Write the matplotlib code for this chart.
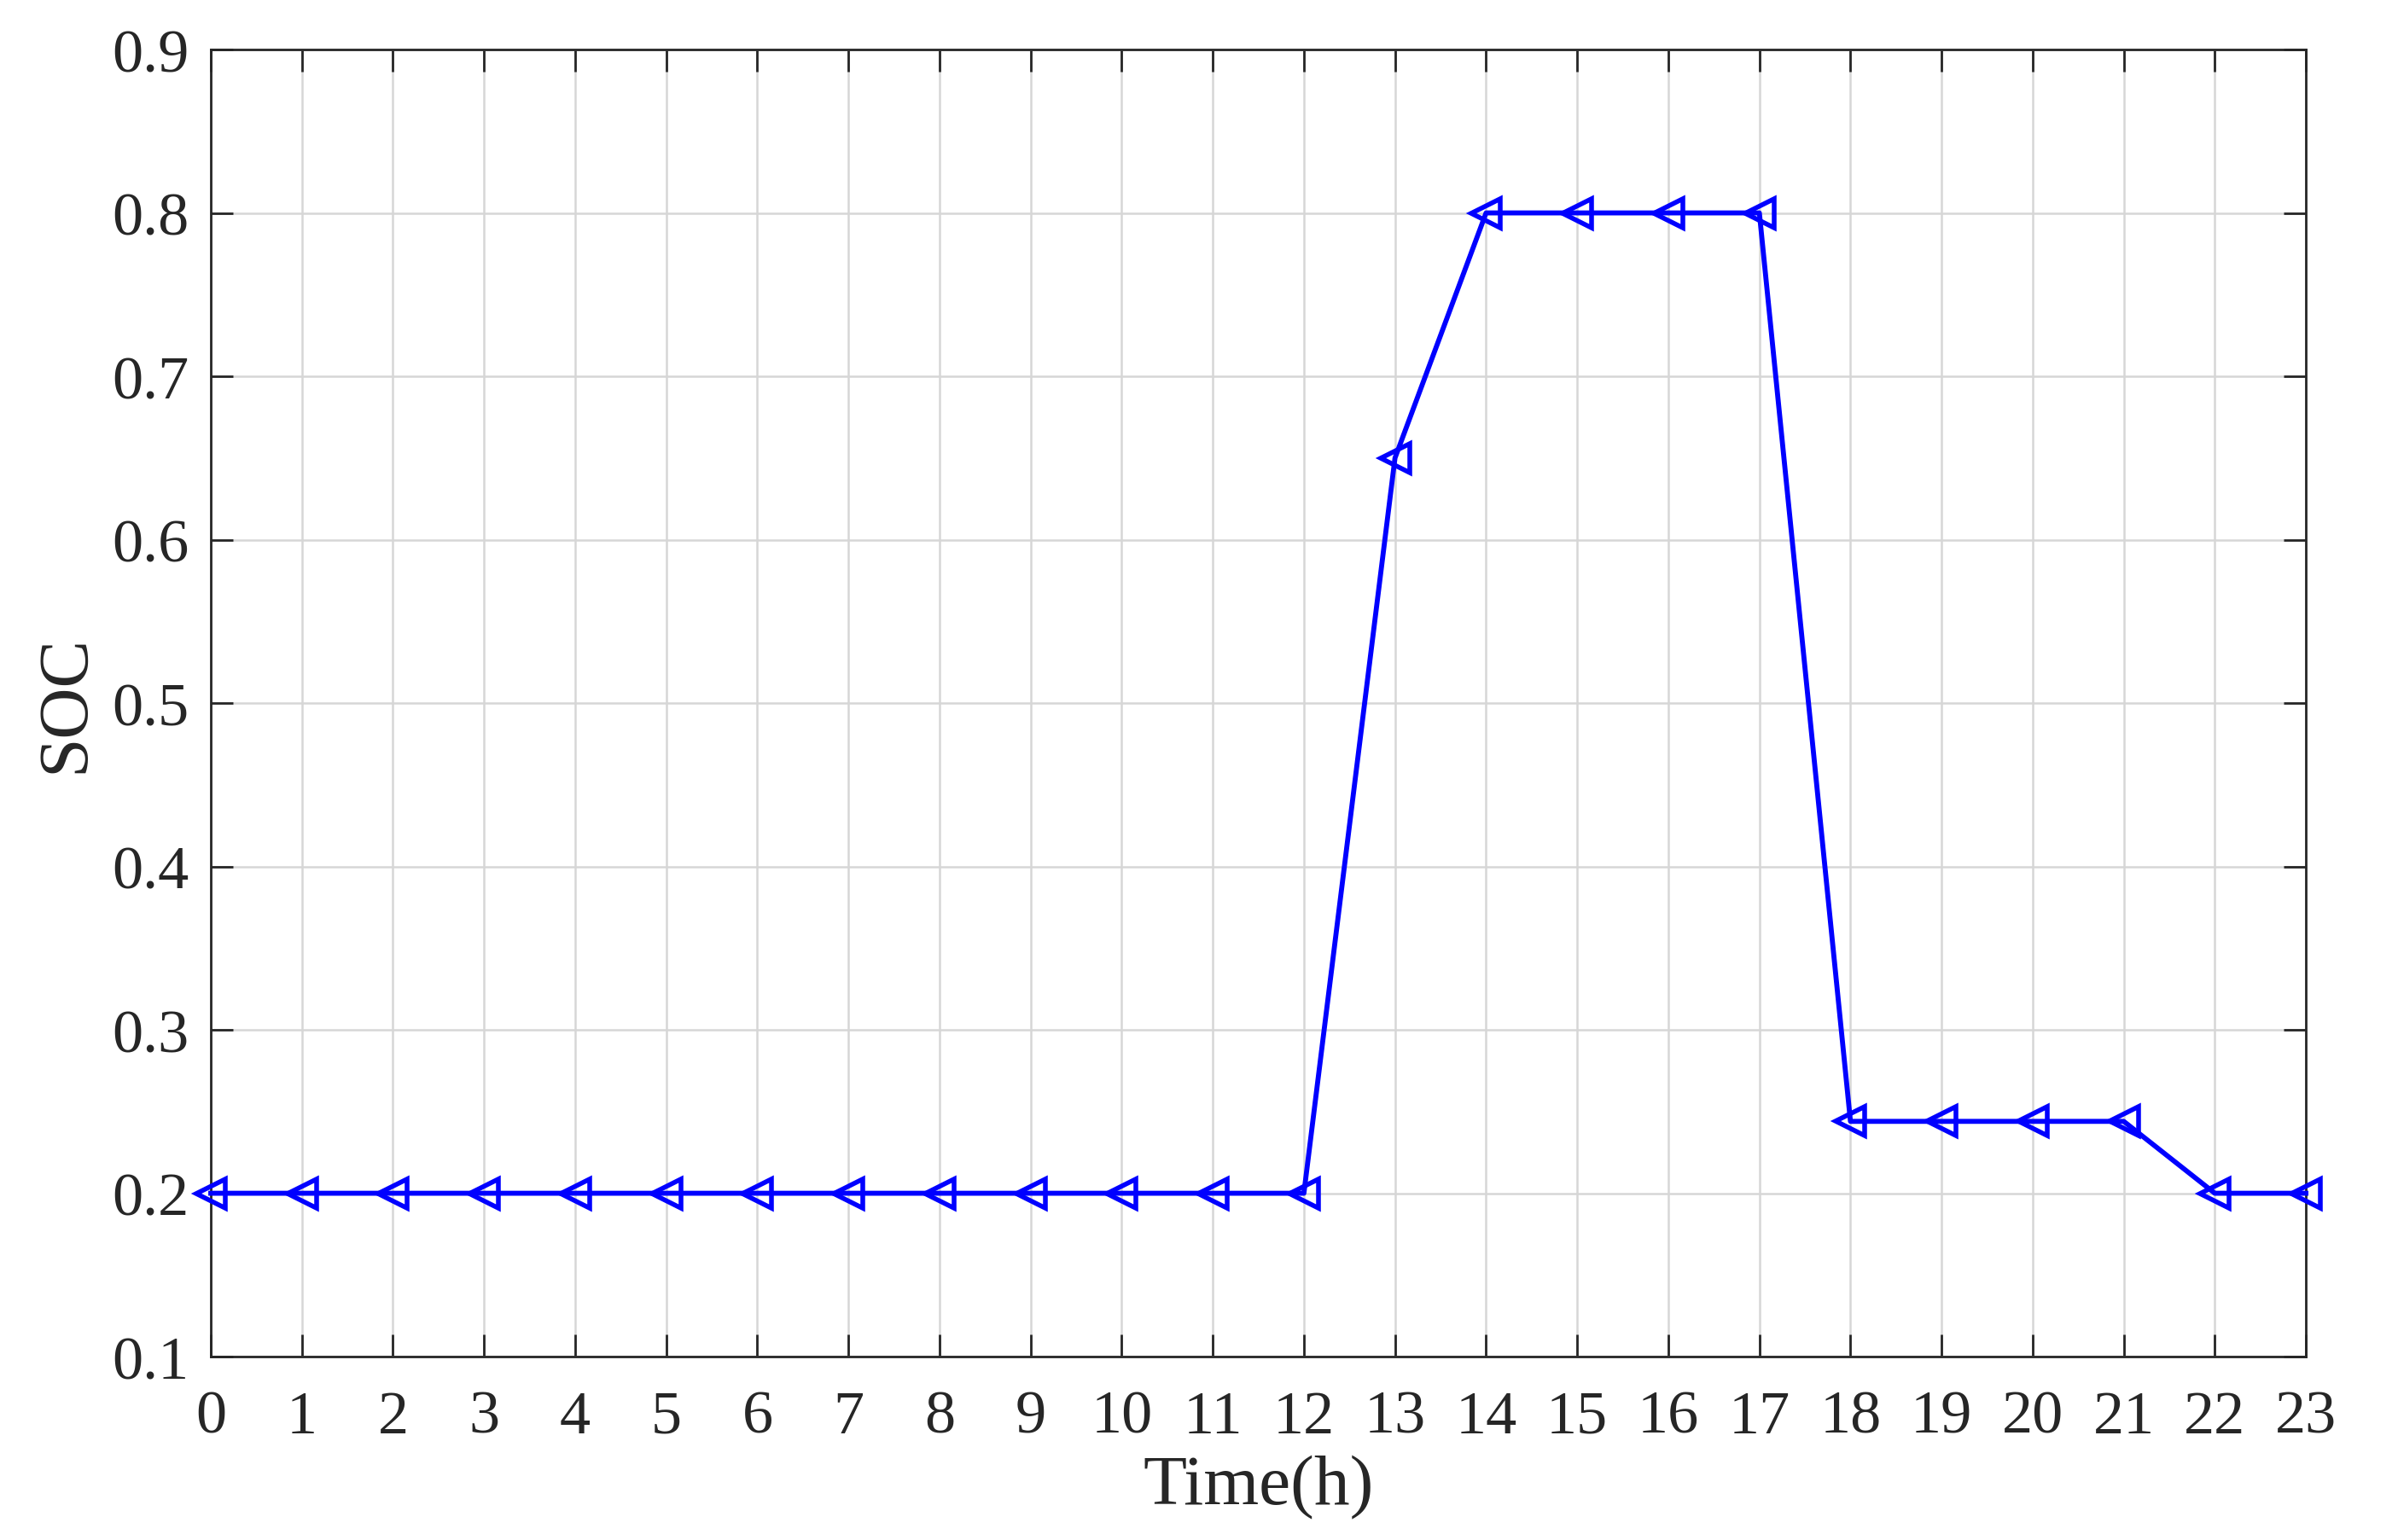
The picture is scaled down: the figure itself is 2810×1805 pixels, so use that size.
import matplotlib
matplotlib.use('Agg')
import matplotlib.pyplot as plt

# 데이터
hours = list(range(24))
soc = [0.2, 0.2, 0.2, 0.2, 0.2, 0.2, 0.2, 0.2, 0.2, 0.2, 0.2, 0.2, 0.2,
       0.65, 0.8, 0.8, 0.8, 0.8, 0.244, 0.244, 0.244, 0.244, 0.2, 0.2]
x_ticks = list(range(24))
y_ticks = [0.1, 0.2, 0.3, 0.4, 0.5, 0.6, 0.7, 0.8, 0.9]

plt.rcParams['font.family'] = ['Liberation Serif', 'DejaVu Serif']
text_color = '#262626'

fig = plt.figure(figsize=(14.05, 9.03), dpi=200)
ax = fig.add_axes([0.0879, 0.119, 0.9616 - 0.0879, 0.9673 - 0.119])

ax.plot(hours, soc, color='#0000ff', linewidth=2.1, marker='<', markersize=12,
        markerfacecolor='none', markeredgecolor='#0000ff', markeredgewidth=2.0,
        clip_on=False, zorder=5)

ax.set_xlim(0, 23)
ax.set_ylim(0.1, 0.9)
ax.set_xticks(x_ticks)
ax.set_yticks(y_ticks)
ax.set_yticklabels([f"{v:.1f}" for v in y_ticks])

ax.grid(True, color='#d6d6d6', linewidth=0.9)
ax.set_axisbelow(True)

for s in ax.spines.values():
    s.set_color(text_color)
    s.set_linewidth(1.0)

ax.tick_params(axis='both', direction='in', length=9.5, width=1.0, color=text_color,
               labelcolor=text_color, labelsize=26, top=True, right=True)
ax.tick_params(axis='x', pad=14)
ax.tick_params(axis='y', pad=9)

ax.set_xlabel("Time(h)", fontsize=30, color=text_color, labelpad=4)
ax.set_ylabel("SOC", fontsize=30, color=text_color, labelpad=6)

fig.savefig('out.png', dpi=200)
